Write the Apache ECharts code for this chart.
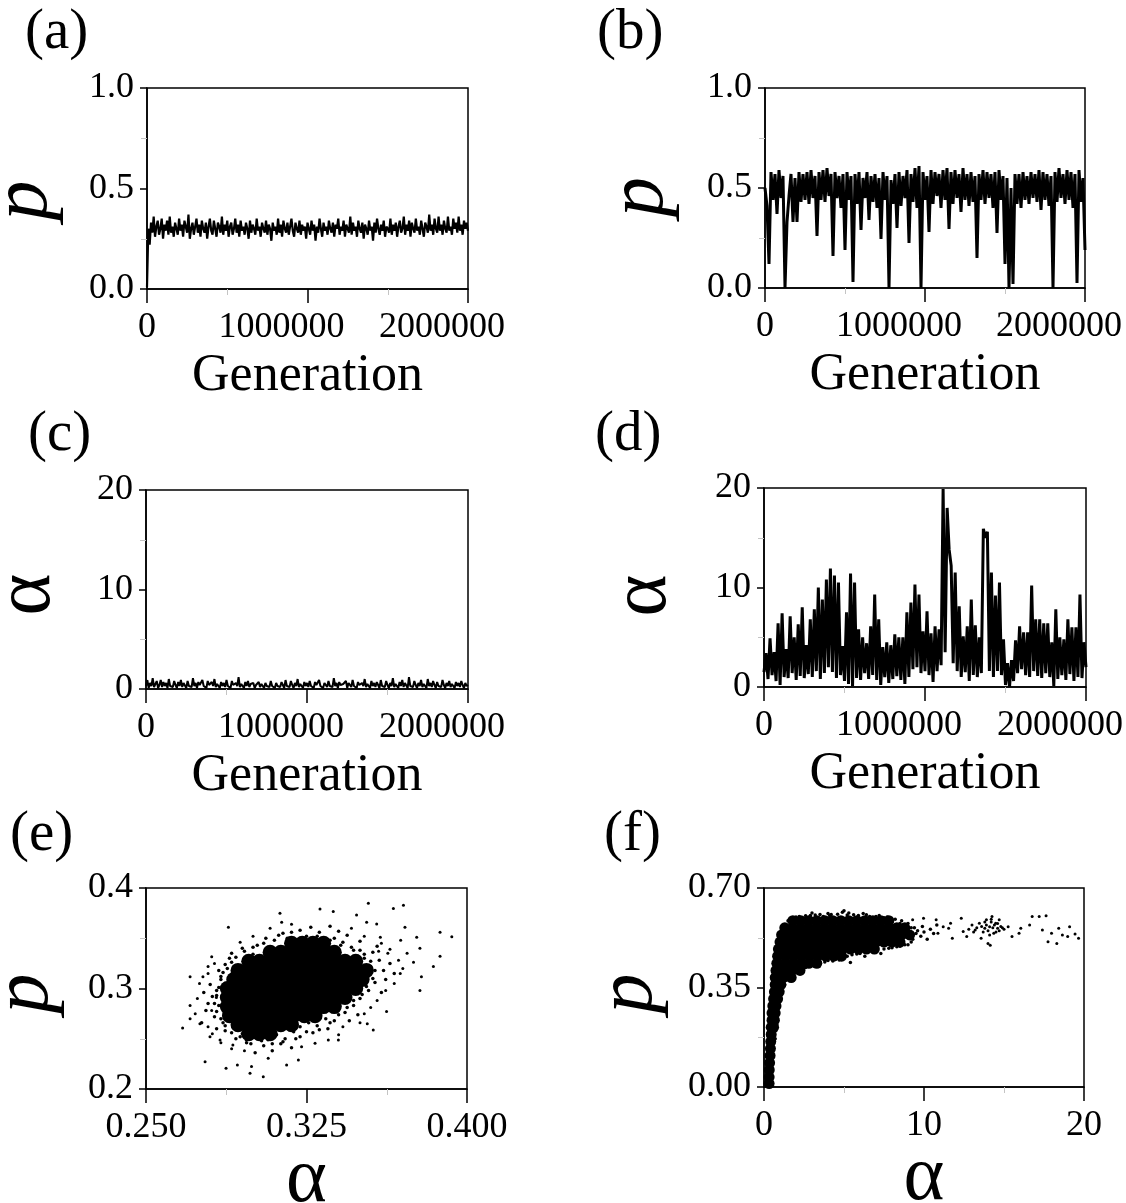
<!DOCTYPE html>
<html><head><meta charset="utf-8">
<script src="https://cdn.jsdelivr.net/npm/echarts@6/dist/echarts.min.js"></script>
<style>html,body{margin:0;padding:0;background:#fff}#c{width:1126px;height:1203px}</style>
</head><body><div id="c"></div>
<script>
// ---------- data ----------
const genMax = 2000000;
const genTicks = [0, 1000000, 2000000];
const panelLabels = ['(a)', '(b)', '(c)', '(d)', '(e)', '(f)'];

// (a) p vs generation (evenly sampled over 0..2000000)
const aP = [0.01,0.30,0.22,0.33,0.28,0.36,0.26,0.31,0.34,0.27,0.30,0.35,0.25,0.32,0.29,0.34,0.27,0.36,0.28,0.31,
0.26,0.33,0.30,0.27,0.35,0.29,0.32,0.26,0.34,0.31,0.28,0.37,0.25,0.30,0.33,0.27,0.31,0.35,0.28,0.32,
0.26,0.34,0.30,0.28,0.33,0.25,0.31,0.35,0.29,0.27,0.34,0.30,0.26,0.33,0.31,0.28,0.36,0.27,0.32,0.29,
0.34,0.26,0.31,0.33,0.27,0.30,0.35,0.28,0.32,0.26,0.34,0.29,0.31,0.27,0.33,0.30,0.25,0.34,0.28,0.32,
0.30,0.27,0.35,0.29,0.31,0.26,0.33,0.30,0.28,0.34,0.27,0.32,0.30,0.24,0.33,0.29,0.31,0.27,0.35,0.28,
0.32,0.26,0.34,0.30,0.28,0.33,0.27,0.31,0.35,0.29,0.26,0.33,0.30,0.28,0.34,0.27,0.32,0.29,0.31,0.25,
0.33,0.30,0.27,0.34,0.29,0.32,0.24,0.31,0.28,0.35,0.30,0.26,0.33,0.29,0.31,0.27,0.34,0.30,0.28,0.33,
0.26,0.32,0.30,0.35,0.27,0.31,0.29,0.34,0.26,0.32,0.30,0.28,0.36,0.27,0.33,0.29,0.31,0.26,0.34,0.30,
0.28,0.33,0.25,0.32,0.30,0.27,0.34,0.29,0.31,0.24,0.33,0.28,0.35,0.30,0.27,0.32,0.29,0.34,0.26,0.31,
0.30,0.28,0.35,0.27,0.32,0.29,0.33,0.26,0.31,0.34,0.28,0.30,0.36,0.27,0.32,0.29,0.34,0.26,0.33,0.30,
0.28,0.35,0.29,0.31,0.27,0.34,0.30,0.26,0.33,0.31,0.28,0.37,0.29,0.32,0.27,0.35,0.30,0.28,0.36,0.29,
0.32,0.27,0.34,0.30,0.28,0.36,0.29,0.31,0.27,0.35,0.30,0.33,0.28,0.36,0.29,0.32,0.27,0.34,0.30,0.33,
0.29];

// (b) p vs generation
const bP = [0.50,0.41,0.12,0.58,0.44,0.57,0.37,0.59,0.45,0.56,
0.0,0.33,0.46,0.57,0.33,0.55,0.33,0.58,0.43,0.57,
0.44,0.58,0.42,0.59,0.45,0.56,0.26,0.58,0.44,0.59,
0.43,0.60,0.46,0.57,0.16,0.58,0.45,0.56,0.40,0.57,
0.19,0.58,0.44,0.56,0.03,0.57,0.42,0.58,0.29,0.55,
0.45,0.58,0.34,0.56,0.43,0.57,0.40,0.55,0.245,0.58,
0.44,0.56,0.0,0.54,0.42,0.57,0.30,0.58,0.41,0.56,
0.45,0.59,0.225,0.57,0.43,0.60,0.40,0.61,0.0,0.58,
0.44,0.56,0.28,0.59,0.42,0.58,0.46,0.57,0.40,0.59,
0.44,0.60,0.295,0.58,0.42,0.59,0.45,0.57,0.38,0.60,
0.44,0.57,0.41,0.58,0.43,0.56,0.15,0.57,0.44,0.59,
0.42,0.58,0.45,0.57,0.40,0.58,0.275,0.59,0.44,0.56,
0.12,0.55,0.0,0.50,0.02,0.57,0.42,0.57,0.40,0.58,
0.44,0.56,0.42,0.58,0.45,0.57,0.43,0.59,0.39,0.58,
0.44,0.57,0.41,0.56,0.0,0.58,0.43,0.60,0.45,0.57,
0.42,0.59,0.44,0.58,0.40,0.57,0.025,0.59,0.43,0.55,
0.19];

// (c) alpha vs generation
const cAlpha = [0.3,0.9,0.1,0.6,0.3,1.1,0.2,0.5,0.8,0.1,0.4,0.9,0.2,0.7,0.3,0.6,0.1,1.0,0.3,0.5,
0.2,0.8,0.4,0.1,0.7,0.3,0.9,0.2,0.6,0.4,0.1,0.8,0.3,0.5,0.2,1.1,0.3,0.6,0.1,0.7,
0.4,0.2,0.9,0.3,0.5,0.1,0.8,0.4,0.2,0.7,0.3,1.0,0.2,0.5,0.4,0.1,0.7,0.3,0.6,0.2,
0.9,0.3,0.5,0.1,0.8,0.4,0.2,0.6,0.3,1.2,0.2,0.5,0.4,0.1,0.7,0.3,0.8,0.2,0.5,0.3,
0.6,0.1,0.4,0.3,0.7,0.2,0.5,0.4,0.1,0.6,0.3,0.5,0.2,0.8,0.3,0.4,0.1,0.6,0.3,0.5,
0.2,0.7,0.4,0.1,0.9,0.3,0.5,0.2,0.8,0.4,0.1,0.6,0.3,1.0,0.2,0.5,0.4,0.1,0.7,0.3,
0.6,0.2,0.8,0.3,0.5,0.1,0.7,0.4,0.2,0.9,0.3,0.5,0.1,0.6,0.4,0.2,0.8,0.3,0.5,0.2,
1.1,0.3,0.6,0.1,0.7,0.4,0.2,0.5,0.3,0.8,0.1,0.6,0.4,0.2,0.9,0.3,0.5,0.1,0.7,0.4,
0.2,0.6,0.3,1.0,0.2,0.5,0.4,0.1,0.8,0.3,0.6,0.2,0.7,0.4,0.1,0.9,0.3,0.5,0.2,0.8,
0.4,0.1,0.6,0.3,1.1,0.2,0.5,0.4,0.1,0.7,0.3,0.9,0.2,0.6,0.4,0.1,1.2,0.3,0.5,0.2,
0.8,0.4,0.1,0.6,0.3,0.9,0.2,0.5,0.4,0.1,1.0,0.3,0.6,0.2,0.8,0.4,0.1,0.7,0.3,0.5,
0.2,0.9,0.4,0.1,0.6,0.3,0.8,0.2,0.5,0.4,0.1,0.7,0.3,0.6,0.2,0.8,0.4,0.1,0.6,0.3,
0.4];

// (d) alpha vs generation
const dAlpha = [1.5,3.4,0.8,4.9,1.2,3.5,0.6,6.4,0.2,7.4,
1.0,3.8,0.9,7.1,1.4,5.0,0.7,6.3,1.1,8.0,
0.9,4.2,1.3,6.8,1.0,7.8,1.6,10.0,0.8,8.8,
1.4,10.8,2.0,11.9,1.5,11.2,0.9,10.5,1.2,4.1,
0.6,7.5,0.3,11.4,0.1,10.5,0.9,5.8,0.7,5.0,
1.4,4.4,0.8,6.1,1.2,9.3,0.7,6.8,0.2,4.0,
1.0,4.5,0.4,4.2,0.8,5.3,1.1,5.0,0.7,5.0,
0.3,7.5,1.0,8.5,1.8,10.3,2.0,9.3,1.4,5.6,
1.6,7.6,1.2,5.4,0.5,6.1,1.6,5.8,2.2,19.9,
3.5,18.0,13.8,12.2,2.4,11.5,1.6,8.1,1.0,5.1,
1.5,6.1,0.6,8.8,1.2,6.2,1.0,5.0,1.4,15.9,
15.0,15.6,1.6,11.5,1.0,9.2,1.6,10.5,1.2,4.8,
0.2,2.4,0.0,2.7,0.6,4.7,1.4,6.1,1.8,5.5,
1.2,5.5,1.0,10.2,1.6,6.8,1.1,6.8,0.9,6.4,
1.4,6.4,1.0,4.5,0.1,7.8,0.8,5.0,1.2,4.8,
0.7,6.8,1.3,6.0,0.6,6.0,1.0,9.3,0.9,4.5,
2.0];

// (e) p vs alpha : dense core rows [p, [alpha...]], halo and outlying points [alpha, p]
const eCoreRows = [
[0.345,[0.318,0.323,0.328,0.333]],
[0.336,[0.308,0.313,0.318,0.323,0.328,0.333,0.338]],
[0.327,[0.298,0.303,0.308,0.313,0.318,0.323,0.328,0.333,0.338,0.343,0.348]],
[0.318,[0.293,0.298,0.303,0.308,0.313,0.318,0.323,0.328,0.333,0.338,0.343,0.348,0.353]],
[0.309,[0.291,0.296,0.301,0.306,0.311,0.316,0.321,0.326,0.331,0.336,0.341,0.346,0.351]],
[0.300,[0.288,0.293,0.298,0.303,0.308,0.313,0.318,0.323,0.328,0.333,0.338,0.343,0.348]],
[0.291,[0.288,0.293,0.298,0.303,0.308,0.313,0.318,0.323,0.328,0.333,0.338,0.343]],
[0.282,[0.288,0.293,0.298,0.303,0.308,0.313,0.318,0.323,0.328,0.333,0.338]],
[0.273,[0.289,0.294,0.299,0.304,0.309,0.314,0.319,0.324,0.329]],
[0.264,[0.293,0.298,0.303,0.308,0.313,0.318]],
[0.255,[0.298,0.303,0.308]]];
const eHalo = [
[0.305,0.345],[0.310,0.348],[0.316,0.350],[0.320,0.346],[0.325,0.352],[0.329,0.347],[0.334,0.344],[0.338,0.350],[0.342,0.346],[0.346,0.341],
[0.331,0.356],[0.322,0.358],[0.314,0.355],[0.340,0.357],[0.300,0.341],[0.296,0.337],[0.300,0.334],[0.336,0.362],[0.344,0.353],[0.350,0.347],[0.327,0.361],
[0.288,0.320],[0.285,0.312],[0.287,0.305],[0.283,0.298],[0.286,0.290],[0.284,0.283],[0.288,0.276],[0.282,0.272],[0.286,0.266],[0.281,0.292],
[0.279,0.285],[0.290,0.326],[0.292,0.331],[0.284,0.318],[0.280,0.304],[0.277,0.296],[0.289,0.270],[0.291,0.262],[0.287,0.258],[0.278,0.278],[0.276,0.266],[0.283,0.260],
[0.295,0.255],[0.299,0.251],[0.303,0.256],[0.307,0.249],[0.311,0.254],[0.315,0.250],[0.319,0.257],[0.322,0.262],[0.326,0.266],[0.330,0.263],[0.334,0.270],
[0.297,0.246],[0.305,0.243],[0.313,0.245],[0.318,0.241],[0.292,0.250],[0.309,0.238],[0.301,0.236],[0.322,0.252],[0.338,0.268],[0.328,0.256],[0.335,0.260],
[0.352,0.330],[0.355,0.322],[0.353,0.314],[0.357,0.306],[0.354,0.298],[0.350,0.290],[0.347,0.283],[0.343,0.276],[0.339,0.279],[0.356,0.336],
[0.359,0.328],[0.361,0.318],[0.358,0.342],[0.350,0.338],[0.362,0.309],[0.349,0.274],[0.345,0.268],[0.360,0.296],[0.364,0.325],[0.366,0.315],
[0.290,0.335],[0.295,0.340],[0.302,0.343],[0.306,0.350],[0.312,0.353],[0.318,0.356],[0.324,0.349],[0.330,0.352],[0.336,0.348],[0.341,0.343],
[0.347,0.338],[0.352,0.334],[0.355,0.327],[0.357,0.318],[0.356,0.310],[0.353,0.302],[0.351,0.294],[0.347,0.288],[0.344,0.281],[0.340,0.274],
[0.336,0.266],[0.331,0.259],[0.325,0.257],[0.320,0.250],[0.314,0.247],[0.309,0.245],[0.304,0.248],[0.299,0.245],[0.294,0.252],[0.290,0.256],
[0.287,0.263],[0.285,0.270],[0.283,0.277],[0.282,0.285],[0.283,0.293],[0.284,0.301],[0.285,0.309],[0.286,0.316],[0.287,0.324],[0.289,0.330]];
const eOutliers = [
[0.2671,0.2607],[0.2706,0.3117],[0.2706,0.283],[0.2706,0.270],[0.2776,0.2272],[0.2766,0.3117],[0.279,0.322],[0.2807,0.3317],[0.2874,0.2206],[0.2885,0.361],
[0.2927,0.224],[0.2986,0.2156],[0.2993,0.2223],[0.3048,0.2123],[0.3071,0.2306],[0.3126,0.3748],[0.3134,0.366],[0.3157,0.224],[0.3212,0.2289],[0.3313,0.3791],
[0.3375,0.3765],[0.3399,0.2488],[0.3484,0.3732],[0.3539,0.3848],[0.3562,0.2587],[0.3624,0.277],[0.3656,0.3795],[0.3703,0.3828],[0.3710,0.361],[0.378,0.34],
[0.3787,0.3117],[0.378,0.298],[0.3843,0.322],[0.3874,0.332],[0.3874,0.356],[0.3929,0.3516],[0.3765,0.351],[0.3688,0.315],[0.3595,0.351],[0.3587,0.337],
[0.364,0.339],[0.3578,0.3643],[0.3531,0.366],[0.352,0.275],[0.3534,0.265],[0.3352,0.2488],[0.329,0.2455],[0.3227,0.242],[0.2968,0.2488],[0.2906,0.2438],
[0.2846,0.2488],[0.2799,0.252],[0.2752,0.265],[0.2829,0.291],[0.2807,0.278],
[0.275,0.305],[0.274,0.290],[0.279,0.315],[0.282,0.325],[0.294,0.346],[0.300,0.352],[0.308,0.360],[0.318,0.364],[0.346,0.360],[0.352,0.352],
[0.360,0.345],[0.363,0.335],[0.368,0.328],[0.370,0.320],[0.366,0.305],[0.362,0.298],[0.358,0.288],[0.355,0.281],[0.350,0.266],[0.342,0.262],
[0.340,0.254],[0.296,0.238],[0.290,0.240],[0.285,0.246],[0.281,0.255],[0.279,0.262],[0.273,0.275],[0.372,0.335],[0.375,0.326],[0.369,0.348]];

// (f) p vs alpha
const fCoreRows = [
[0.585,[1.8,2.3,2.8,3.3,3.8,4.3,4.8,5.3,5.8,6.3,6.8,7.3,7.8]],
[0.560,[1.3,1.8,2.3,2.8,3.3,3.8,4.3,4.8,5.3,5.8,6.3,6.8,7.3,7.8,8.3,8.8]],
[0.535,[1.1,1.6,2.1,2.6,3.1,3.6,4.1,4.6,5.1,5.6,6.1,6.6,7.1,7.6,8.1,8.6,9.1]],
[0.510,[1.0,1.5,2.0,2.5,3.0,3.5,4.0,4.5,5.0,5.5,6.0,6.5,7.0,7.5,8.0,8.5]],
[0.485,[0.9,1.4,1.9,2.4,2.9,3.4,3.9,4.4,4.9,5.4,5.9,6.4,6.9]],
[0.460,[0.85,1.35,1.85,2.35,2.85,3.35,3.85,4.35,4.85]],
[0.435,[0.8,1.3,1.8,2.3,2.8,3.3]],
[0.410,[0.75,1.25,1.75,2.25]],
[0.385,[0.7,1.2,1.7]],
[0.360,[0.7,1.05]],
[0.335,[0.65,0.95]],
[0.310,[0.6,0.85]],
[0.285,[0.55,0.75]],
[0.260,[0.5,0.7]],
[0.235,[0.5,0.65]],
[0.210,[0.45,0.6]],
[0.185,[0.45]],
[0.160,[0.42]],
[0.135,[0.4]],
[0.110,[0.38]],
[0.085,[0.35]],
[0.060,[0.33]],
[0.035,[0.32]],
[0.012,[0.32]]];
const fHalo = [
[2.0,0.598],[2.6,0.602],[3.2,0.605],[3.7,0.60],[4.2,0.607],[4.9,0.615],[5.0,0.62],[5.6,0.606],[6.2,0.61],[6.6,0.60],
[7.2,0.603],[7.7,0.598],[8.2,0.59],[8.6,0.585],[9.0,0.575],[1.5,0.585],[1.2,0.57],[3.0,0.612],[4.0,0.61],[5.3,0.612],
[1.4,0.40],[1.7,0.41],[2.0,0.415],[2.5,0.425],[3.0,0.43],[3.5,0.44],[4.0,0.445],[4.5,0.45],[5.0,0.455],[5.5,0.465],
[6.0,0.47],[6.5,0.475],[7.0,0.478],[7.5,0.485],[8.0,0.49],[8.5,0.495],[9.0,0.50],[3.3,0.448],[4.3,0.443],[5.4,0.438],
[6.3,0.46],[7.3,0.47],[2.3,0.42],[1.1,0.37],[1.3,0.36],[0.9,0.33],
[9.3,0.52],[9.5,0.54],[9.6,0.55],[9.8,0.53],[10.0,0.545],[9.4,0.56],[9.9,0.565],[10.2,0.52],[10.4,0.555],[10.6,0.54],[10.8,0.57],
[1.6,0.59],[2.2,0.60],[2.9,0.603],[3.5,0.607],[4.1,0.602],[4.6,0.608],[5.2,0.605],[5.9,0.603],[6.4,0.606],[7.0,0.60],
[7.5,0.595],[8.0,0.585],[8.5,0.575],[8.9,0.57],[9.2,0.56],
[1.2,0.39],[1.5,0.395],[1.8,0.405],[2.6,0.42],[3.2,0.433],[3.8,0.44],[4.7,0.447],[5.2,0.46],[5.8,0.468],[6.8,0.475],
[7.8,0.488],[8.3,0.493],[8.8,0.50],[9.2,0.51],[0.9,0.28],[0.8,0.22],[0.7,0.17],[0.95,0.36]];
const fTail = [
[9.29,0.588],[9.97,0.594],[10.76,0.588],[10.87,0.541],[11.2,0.564],[11.54,0.558],[11.66,0.576],[11.77,0.523],[12.33,0.594],[12.45,0.547],
[12.67,0.529],[13.0,0.570],[13.2,0.552],[13.46,0.576],[13.8,0.558],[13.9,0.588],[14.1,0.564],[14.25,0.600],[14.36,0.541],[14.48,0.576],
[14.6,0.558],[14.7,0.588],[14.14,0.499],[13.57,0.523],[15.26,0.564],[15.5,0.529],[15.94,0.541],[16.05,0.558],[16.6,0.570],[16.76,0.600],
[17.2,0.600],[17.4,0.552],[17.63,0.602],[17.75,0.511],[17.97,0.541],[18.3,0.505],[18.42,0.558],[18.65,0.535],[18.98,0.529],[19.1,0.564],
[19.44,0.538],[19.66,0.523],
[13.6,0.565],[13.7,0.545],[13.9,0.57],[14.0,0.55],[14.1,0.535],[14.2,0.58],[14.3,0.56],[14.4,0.57],[14.5,0.545],[14.6,0.575],
[14.7,0.55],[14.8,0.565],[14.9,0.56],[14.2,0.59],[13.8,0.58],[14.0,0.505],[15.0,0.555],[13.3,0.56],[13.1,0.545],[12.8,0.555]];

// ---------- helpers ----------
const FF = '"Liberation Serif","Times New Roman",serif';
function timeSeries(vals){ const n = vals.length; return vals.map((v,i)=>[i*genMax/(n-1), v]); }
function rowsToPoints(rows){ const out=[]; rows.forEach(r=>r[1].forEach(a=>out.push([a, r[0]]))); return out; }

const grids = [
  {left:147, top:88, width:321, height:201},
  {left:765, top:88, width:320, height:200},
  {left:146, top:490, width:322, height:199},
  {left:764, top:488, width:322, height:199},
  {left:146, top:888, width:321, height:201},
  {left:764, top:888, width:320, height:199}
].map(g=>Object.assign({show:true, borderColor:'#000', borderWidth:1.5, backgroundColor:'transparent',
  containLabel:false, outerBoundsMode:'none'}, g));

function baseAxis(gi){
  return {
    gridIndex:gi, type:'value',
    axisLine:{show:true, onZero:false, lineStyle:{color:'#000', width:1.5}},
    splitLine:{show:false},
    minorTick:{show:true, splitNumber:2, length:6, lineStyle:{color:'#c4c4c4', width:1}},
    axisLabel:{fontFamily:FF, fontSize:36, color:'#000', showMinLabel:true, showMaxLabel:true},
    nameLocation:'middle'
  };
}
function xAxisGen(gi){
  const ax = baseAxis(gi);
  Object.assign(ax, {min:0, max:genMax, interval:1000000,
    axisTick:{show:true, length:14, lineStyle:{color:'#000', width:1.5}},
    name:'Generation', nameGap:61, nameTextStyle:{fontFamily:FF, fontSize:52, color:'#000'}});
  ax.axisLabel = Object.assign(ax.axisLabel, {margin:21,
    formatter:v=> v===0 ? '{z|0}' : '{s|'+v+'}',
    rich:{z:{fontFamily:FF, fontSize:36, color:'#000'}, s:{fontFamily:FF, fontSize:36, color:'#000', padding:[0,52,0,0]}}});
  return ax;
}
function yAxisOf(gi, min, max, interval, digits, name, italic, gap, down){
  const ax = baseAxis(gi);
  Object.assign(ax, {min, max, interval,
    axisTick:{show:true, length:7, lineStyle:{color:'#000', width:1.5}},
    name, nameRotate:90, nameGap:gap,
    nameTextStyle:{fontFamily:FF, fontSize:80, fontStyle: italic?'italic':'normal', color:'#000', padding:[0,2*down,0,0]}});
  ax.axisLabel = Object.assign(ax.axisLabel, {margin:13, formatter:v=>Number(v).toFixed(digits)});
  return ax;
}
function xAxisAlpha(gi, min, max, interval, digits){
  const ax = baseAxis(gi);
  Object.assign(ax, {min, max, interval,
    axisTick:{show:true, length:14, lineStyle:{color:'#000', width:1.5}},
    name:'\u03B1', nameGap:53, nameMoveOverlap:false, nameTextStyle:{fontFamily:FF, fontSize:78, color:'#000'}});
  ax.axisLabel = Object.assign(ax.axisLabel, {margin:21, formatter:v=>Number(v).toFixed(digits)});
  return ax;
}

const xAxes = [xAxisGen(0), xAxisGen(1), xAxisGen(2), xAxisGen(3), xAxisAlpha(4,0.25,0.40,0.075,3), xAxisAlpha(5,0,20,10,0)];
const yAxes = [
  yAxisOf(0,0,1,0.5,1,'p',true,82,12),
  yAxisOf(1,0,1,0.5,1,'p',true,84,9),
  yAxisOf(2,0,20,10,0,'\u03B1',false,78,5),
  yAxisOf(3,0,20,10,0,'\u03B1',false,80,8),
  yAxisOf(4,0.2,0.4,0.1,1,'p',true,80,5),
  yAxisOf(5,0,0.70,0.35,2,'p',true,94,6)
];

function lineS(i, vals, w){
  return {type:'line', xAxisIndex:i, yAxisIndex:i, data:timeSeries(vals), showSymbol:false, symbol:'none',
    lineStyle:{color:'#000', width:w, opacity:1}, sampling:null, silent:true, animation:false, clip:true};
}
function dots(i, pts, size){
  return {type:'scatter', xAxisIndex:i, yAxisIndex:i, data:pts, symbol:'circle', symbolSize:size,
    itemStyle:{color:'#000', opacity:1}, silent:true, animation:false, large:false};
}

const labelPos = [[25,5],[597,5],[28,407],[595,407],[10,807],[604,807]];
const graphics = panelLabels.map((t,i)=>({type:'text', left:labelPos[i][0], top:labelPos[i][1],
  style:{text:t, font:'57px '+FF, fill:'#000'}}));

const chart = echarts.init(document.getElementById('c'), null, {renderer:'canvas'});
chart.setOption({
  backgroundColor:'#fff', animation:false,
  grid:grids, xAxis:xAxes, yAxis:yAxes, graphic:graphics,
  series:[
    lineS(0,aP,2.2), lineS(1,bP,3), lineS(2,cAlpha,2), lineS(3,dAlpha,3),
    dots(4, rowsToPoints(eCoreRows), 15), dots(4, eHalo, 3.5), dots(4, eOutliers, 3),
    dots(5, rowsToPoints(fCoreRows), 11), dots(5, fHalo, 3.5), dots(5, fTail, 3)
  ]
});
</script></body></html>
